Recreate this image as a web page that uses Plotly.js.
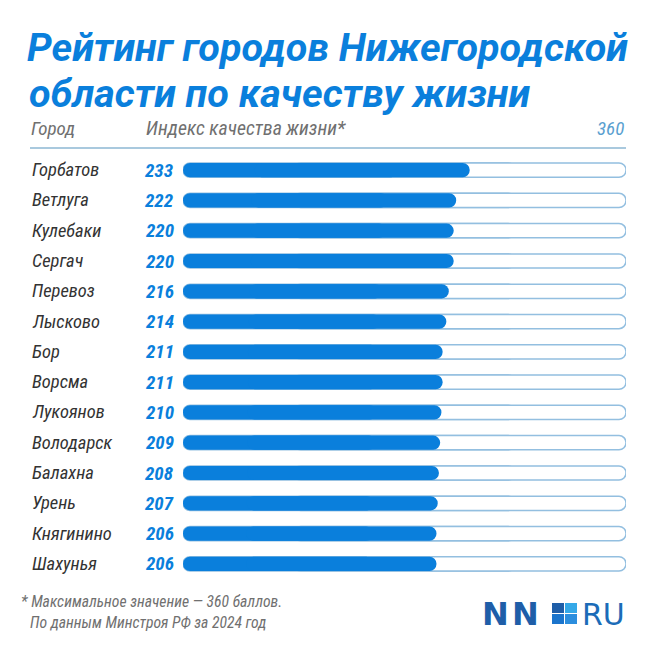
<!DOCTYPE html>
<html>
<head>
<meta charset="utf-8">
<script src="https://cdn.plot.ly/plotly-3.0.1.min.js"></script>
<style>html,body{margin:0;padding:0;background:#fff;}#chart{width:656px;height:656px;}</style>
</head>
<body>
<div id="chart"></div>
<script>
const cities = ["Горбатов","Ветлуга","Кулебаки","Сергач","Перевоз","Лысково","Бор","Ворсма","Лукоянов","Володарск","Балахна","Урень","Княгинино","Шахунья"];
const values = [233,222,220,220,216,214,211,211,210,209,208,207,206,206];
const maxValue = 360;
const titleLine1 = "Рейтинг городов Нижегородской";
const titleLine2 = "области по качеству жизни";
const headerCity = "Город";
const headerIndex = "Индекс качества жизни*";
const footnote1 = "* Максимальное значение — 360 баллов.";
const footnote2 = "По данным Минстроя РФ за 2024 год";

const W = 656, H = 656, L = 183, R = 30, T = 155, B = 77;
const pw = W - L - R, ph = H - T - B;
const px = x => (x - L) / pw;
const py = y => (H - B - y) / ph;

const FONT = "Roboto Condensed, Liberation Sans Narrow, Roboto, sans-serif";
const TFONT = "Roboto, sans-serif";
const BLUE = "#0a7fdc";
const BW = 0.47;
const TSIZE = 39.5;

// each bar drawn as two overlapping pieces so that both ends get rounded corners
const maxArr = cities.map(() => maxValue);
const leftPiece = arr => ({base: arr.map(v => v * 0.75), x: arr.map(v => -v * 0.75)});
const rightPiece = arr => ({base: arr.map(v => v * 0.25), x: arr.map(v => v * 0.75)});

const trackStyle = {color: "#ffffff", line: {color: "#93bfe0", width: 1.5}, cornerradius: 7};
const barStyle = {color: BLUE, line: {width: 0}, cornerradius: 7};
const mk = (piece, style) => Object.assign({type: "bar", orientation: "h", y: cities, marker: style, width: BW, hoverinfo: "skip"}, piece);
const traces = [
  mk(leftPiece(maxArr), trackStyle),
  mk(rightPiece(maxArr), trackStyle),
  mk(leftPiece(values), barStyle),
  mk(rightPiece(values), barStyle)
];

const annotations = [];
cities.forEach((c, i) => {
  annotations.push({xref: "paper", yref: "y", x: px(30), y: c, xanchor: "left", yanchor: "middle",
    text: c, showarrow: false, font: {family: FONT, size: 18.5, color: "#333333", style: "italic"}});
  annotations.push({xref: "paper", yref: "y", x: px(176), y: c, xanchor: "right", yanchor: "middle",
    text: String(values[i]), showarrow: false, font: {family: FONT, size: 19, color: BLUE, style: "italic", weight: "bold"}});
});
// second title line
annotations.push({xref: "paper", yref: "paper", x: px(27), y: py(93), xanchor: "left", yanchor: "middle",
  text: titleLine2, showarrow: false, font: {family: TFONT, size: TSIZE, color: BLUE, weight: "bold", style: "italic"}});
const hdr = {family: FONT, size: 19, color: "#707070", style: "italic"};
annotations.push({xref: "paper", yref: "paper", x: px(29), y: py(129), xanchor: "left", yanchor: "middle",
  text: headerCity, showarrow: false, font: hdr});
annotations.push({xref: "paper", yref: "paper", x: px(144), y: py(129), xanchor: "left", yanchor: "middle",
  text: headerIndex, showarrow: false, font: {family: FONT, size: 19.8, color: "#707070", style: "italic"}});
annotations.push({xref: "paper", yref: "paper", x: 1, y: py(129), xanchor: "right", yanchor: "middle",
  text: String(maxValue), showarrow: false, font: {family: FONT, size: 19, color: "#5a9fd0", style: "italic"}});
const ft = {family: FONT, size: 15.7, color: "#707070", style: "italic"};
annotations.push({xref: "paper", yref: "paper", x: px(19), y: py(601), xanchor: "left", yanchor: "middle",
  text: footnote1, showarrow: false, font: ft});
annotations.push({xref: "paper", yref: "paper", x: px(28), y: py(622), xanchor: "left", yanchor: "middle",
  text: footnote2, showarrow: false, font: ft});
// logo
const nFont = {family: "DejaVu Sans, sans-serif", size: 32, color: "#1f5ea8", weight: "bold"};
annotations.push({xref: "paper", yref: "paper", x: px(480), y: py(614), xanchor: "left", yanchor: "middle",
  text: "N", showarrow: false, font: nFont});
annotations.push({xref: "paper", yref: "paper", x: px(510), y: py(614), xanchor: "left", yanchor: "middle",
  text: "N", showarrow: false, font: nFont});
annotations.push({xref: "paper", yref: "paper", x: px(580), y: py(614), xanchor: "left", yanchor: "middle",
  text: "RU", showarrow: false, font: {family: "DejaVu Sans, sans-serif", size: 30, color: "#1c6cb8"}});

const sq = (x0, y0, x1, y1, color) => ({type: "rect", xref: "paper", yref: "paper",
  x0: px(x0), x1: px(x1), y0: py(y1), y1: py(y0), fillcolor: color, line: {width: 0}});
const shapes = [
  {type: "line", xref: "paper", yref: "paper", x0: px(30), x1: 1, y0: py(148), y1: py(148),
   line: {color: "#a9c9de", width: 2}},
  sq(552, 603, 564, 613, "#1f5ea8"),
  sq(565, 603, 577, 613, "#35a9e8"),
  sq(552, 614, 564, 624, "#1a74cc"),
  sq(565, 614, 577, 624, "#2b8ede")
];

const layout = {
  width: W, height: H,
  margin: {l: L, r: R, t: T, b: B},
  paper_bgcolor: "#ffffff", plot_bgcolor: "#ffffff",
  barmode: "overlay", showlegend: false,
  title: {text: titleLine1, xref: "container", yref: "container", x: 27 / W, xanchor: "left",
    y: 1 - 47 / H, yanchor: "middle",
    font: {family: TFONT, size: TSIZE, color: BLUE, weight: "bold", style: "italic"}},
  xaxis: {range: [0, maxValue], visible: false, fixedrange: true},
  yaxis: {type: "category", autorange: "reversed", visible: false, fixedrange: true},
  annotations: annotations, shapes: shapes
};

Plotly.newPlot("chart", traces, layout, {displayModeBar: false, staticPlot: true});
</script>
</body>
</html>
